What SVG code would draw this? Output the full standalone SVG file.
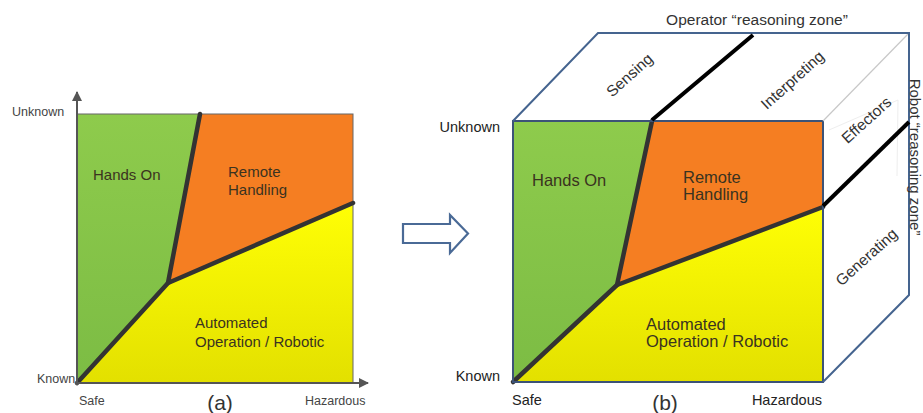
<svg xmlns="http://www.w3.org/2000/svg" width="923" height="413" viewBox="0 0 923 413">
<style>
text{font-family:"Liberation Sans",Arial,sans-serif;fill:#333}
.ax{font-size:12.5px;fill:#444}
.axb{font-size:14.5px;fill:#222}
.reg{font-size:15px;fill:#3a3320}
.regb{font-size:16.5px;fill:#3a3320}
.zone{font-size:15.5px;fill:#333}
.bnd{fill:none;stroke:#333;stroke-width:4.5;stroke-linejoin:round;stroke-linecap:round}
.blk{fill:none;stroke:#000;stroke-width:4}
.edge{fill:none;stroke:#45648f;stroke-width:2}
</style>
<defs>
<linearGradient id="gG" x1="0" y1="0" x2="0" y2="1"><stop offset="0" stop-color="#8ecb4c"/><stop offset="1" stop-color="#7cbc44"/></linearGradient>
<linearGradient id="gY" x1="0" y1="0" x2="0" y2="1"><stop offset="0" stop-color="#ffff05"/><stop offset="1" stop-color="#e3e000"/></linearGradient>
<marker id="ah" viewBox="0 0 10 10" refX="9" refY="5" markerWidth="5" markerHeight="5" orient="auto"><path d="M0,0 L10,5 L0,10 z" fill="#555"/></marker>
</defs>
<rect width="923" height="413" fill="#fff"/>

<g id="panel-a">
  <polygon points="77,114 200,114 168,283 77,383" fill="url(#gG)"/>
  <polygon points="200,114 353,114 353,203 168,283" fill="#f57e22"/>
  <polygon points="168,283 353,203 353,383 77,383" fill="url(#gY)"/>
  <rect x="77" y="114" width="276" height="269" fill="none" stroke="#666" stroke-width="1"/>
  <polyline class="bnd" points="200,114 168,283 353,203"/>
  <line class="bnd" x1="77" y1="383" x2="168" y2="283"/>
  <line x1="77" y1="385" x2="77" y2="92" stroke="#555" stroke-width="2" marker-end="url(#ah)"/>
  <line x1="75" y1="383" x2="368" y2="383" stroke="#555" stroke-width="2" marker-end="url(#ah)"/>
  <text class="ax" x="12" y="116">Unknown</text>
  <text class="ax" x="37" y="383">Known</text>
  <text class="ax" x="79" y="405">Safe</text>
  <text class="ax" x="305" y="405">Hazardous</text>
  <text x="220" y="410" font-size="21" text-anchor="middle" fill="#222">(a)</text>
  <text class="reg" x="93" y="180">Hands On</text>
  <text class="reg" x="228" y="177">Remote</text>
  <text class="reg" x="228" y="195">Handling</text>
  <text class="reg" x="195" y="328">Automated</text>
  <text class="reg" x="195" y="347">Operation / Robotic</text>
</g>

<g id="arrow">
  <polygon points="403,224 450,224 450,215 468,233.5 450,253 450,243 403,243" fill="#fff" stroke="#4a6a96" stroke-width="2.2" stroke-linejoin="miter"/>
</g>

<g id="panel-b">
  <polygon points="513,121 652,121 617,285 513,382" fill="url(#gG)"/>
  <polygon points="652,121 823,121 823,207 617,285" fill="#f57e22"/>
  <polygon points="617,285 823,207 823,382 513,382" fill="url(#gY)"/>
  <polyline class="bnd" points="652,121 617,285 823,207"/>
  <line class="bnd" x1="513" y1="382" x2="617" y2="285"/>
  <rect x="513" y="121" width="310" height="261" fill="none" stroke="#3c5377" stroke-width="2"/>
  <line x1="823" y1="121" x2="909" y2="33" stroke="#c8c8c8" stroke-width="1.2"/>
  <polyline points="829,130 898,100 897,176" fill="none" stroke="#eeeeee" stroke-width="1"/>
  <polyline class="edge" points="513,121 598,33 909,33 909,295 823,382"/>
  <line class="blk" x1="652" y1="120" x2="753" y2="35"/>
  <line class="blk" x1="823" y1="206" x2="909" y2="122"/>
  <text class="zone" x="757" y="25" text-anchor="middle">Operator “reasoning zone”</text>
  <text class="zone" font-size="15" style="font-size:15px" transform="translate(910,157) rotate(90)" text-anchor="middle">Robot “reasoning zone”</text>
  <text class="zone" transform="translate(633,79) rotate(-42)" text-anchor="middle">Sensing</text>
  <text class="zone" transform="translate(796,84) rotate(-42)" text-anchor="middle">Interpreting</text>
  <text class="zone" transform="translate(870,124) rotate(-42)" text-anchor="middle">Effectors</text>
  <text class="zone" transform="translate(870,261) rotate(-42)" text-anchor="middle">Generating</text>
  <text class="axb" x="500" y="132" text-anchor="end">Unknown</text>
  <text class="axb" x="500" y="381" text-anchor="end">Known</text>
  <text class="axb" x="512" y="405">Safe</text>
  <text class="axb" x="822" y="405" text-anchor="end">Hazardous</text>
  <text x="665" y="410" font-size="21" text-anchor="middle" fill="#222">(b)</text>
  <text class="regb" x="532" y="186">Hands On</text>
  <text class="regb" x="683" y="183">Remote</text>
  <text class="regb" x="683" y="200">Handling</text>
  <text class="regb" x="646" y="330">Automated</text>
  <text class="regb" x="646" y="347">Operation / Robotic</text>
</g>
</svg>
